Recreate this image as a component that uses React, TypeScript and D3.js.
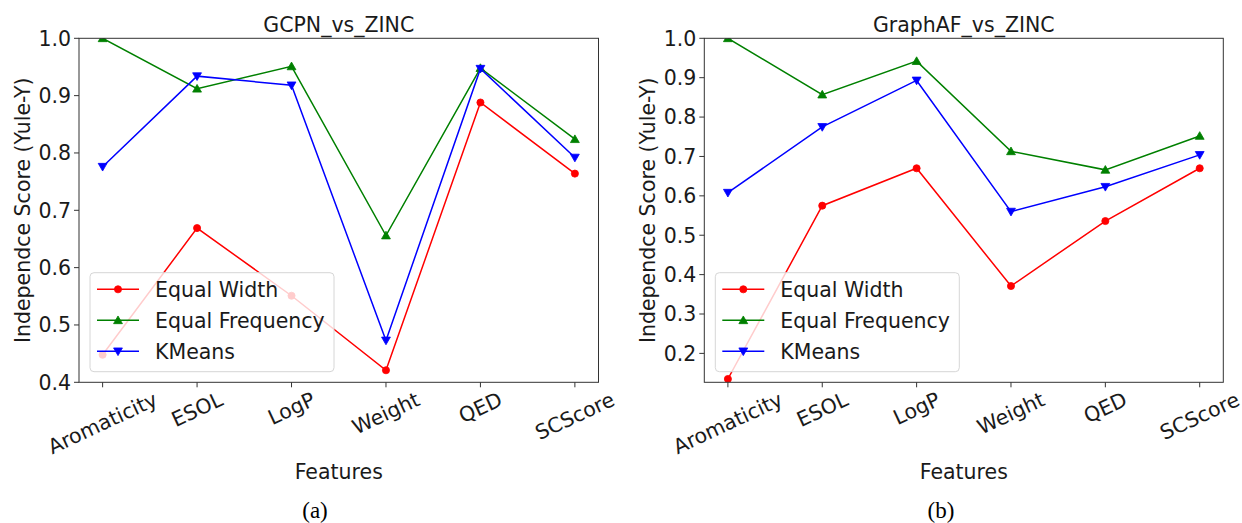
import React, { useEffect, useRef } from "react";
import * as d3 from "d3";

const features = ["Aromaticity", "ESOL", "LogP", "Weight", "QED", "SCScore"];

const gcpnEqualWidth = [0.448, 0.669, 0.551, 0.421, 0.888, 0.764];
const gcpnEqualFreq = [1.0, 0.912, 0.951, 0.656, 0.948, 0.824];
const gcpnKMeans = [0.776, 0.934, 0.918, 0.473, 0.947, 0.792];

const gafEqualWidth = [0.135, 0.575, 0.67, 0.371, 0.536, 0.67];
const gafEqualFreq = [1.0, 0.857, 0.942, 0.713, 0.666, 0.752];
const gafKMeans = [0.608, 0.775, 0.893, 0.56, 0.623, 0.704];

const gcpnTicks = [0.4, 0.5, 0.6, 0.7, 0.8, 0.9, 1.0];
const gafTicks = [0.2, 0.3, 0.4, 0.5, 0.6, 0.7, 0.8, 0.9, 1.0];

const seriesNames = ["Equal Width", "Equal Frequency", "KMeans"];
const seriesColors = ["#ff0000", "#008000", "#0000ff"];
const seriesMarkers = ["circle", "triangleUp", "triangleDown"];

const FONT = "DejaVu Sans, Verdana, sans-serif";
const FS = 20.5;

type Panel = {
  id: string;
  title: string;
  sub: string;
  subX: number;
  x0: number;
  x1: number;
  y0: number;
  y1: number;
  domain: [number, number];
  ticks: number[];
  series: number[][];
};

const panels: Panel[] = [
  {
    id: "a",
    title: "GCPN_vs_ZINC",
    sub: "(a)",
    subX: 315,
    x0: 79,
    x1: 598.5,
    y0: 38.3,
    y1: 382.3,
    domain: [0.4, 1.0],
    ticks: gcpnTicks,
    series: [gcpnEqualWidth, gcpnEqualFreq, gcpnKMeans],
  },
  {
    id: "b",
    title: "GraphAF_vs_ZINC",
    sub: "(b)",
    subX: 941,
    x0: 704.3,
    x1: 1223.3,
    y0: 38.3,
    y1: 382.3,
    domain: [0.1266, 1.0],
    ticks: gafTicks,
    series: [gafEqualWidth, gafEqualFreq, gafKMeans],
  },
];

function markerPath(kind: string) {
  if (kind === "circle") return d3.symbol().type(d3.symbolCircle).size(40)()!;
  return d3.symbol().type(d3.symbolTriangle).size(34)()!;
}

function addMarker(g: any, kind: string, x: number, y: number, color: string) {
  const rot = kind === "triangleDown" ? 180 : 0;
  const dy = kind === "triangleUp" ? 0.8 : kind === "triangleDown" ? -0.8 : 0;
  g.append("path")
    .attr("d", markerPath(kind))
    .attr("transform", `translate(${x},${y + dy}) rotate(${rot})`)
    .attr("fill", color)
    .attr("stroke", color)
    .attr("stroke-width", 0.8);
}

export default function App() {
  const ref = useRef<SVGSVGElement | null>(null);

  useEffect(() => {
    const svg = d3.select(ref.current);
    svg.selectAll("*").remove();
    const defs = svg.append("defs");

    panels.forEach((p) => {
      const x = d3
        .scalePoint<string>()
        .domain(features)
        .range([p.x0, p.x1])
        .padding(0.25);
      const y = d3.scaleLinear().domain(p.domain).range([p.y1, p.y0]);

      defs
        .append("clipPath")
        .attr("id", "clip-" + p.id)
        .append("rect")
        .attr("x", p.x0)
        .attr("y", p.y0)
        .attr("width", p.x1 - p.x0)
        .attr("height", p.y1 - p.y0);

      const g = svg.append("g");

      // data lines
      const plot = g.append("g").attr("clip-path", `url(#clip-${p.id})`);
      p.series.forEach((vals, si) => {
        const line = d3
          .line<number>()
          .x((_, i) => x(features[i])!)
          .y((v) => y(v));
        plot
          .append("path")
          .attr("d", line(vals)!)
          .attr("fill", "none")
          .attr("stroke", seriesColors[si])
          .attr("stroke-width", 1.5);
        vals.forEach((v, i) =>
          addMarker(plot, seriesMarkers[si], x(features[i])!, y(v), seriesColors[si])
        );
      });

      // frame
      g.append("rect")
        .attr("x", p.x0)
        .attr("y", p.y0)
        .attr("width", p.x1 - p.x0)
        .attr("height", p.y1 - p.y0)
        .attr("fill", "none")
        .attr("stroke", "#333")
        .attr("stroke-width", 1);

      // y ticks
      p.ticks.forEach((t) => {
        const yy = y(t);
        g.append("line")
          .attr("x1", p.x0 - 5)
          .attr("x2", p.x0)
          .attr("y1", yy)
          .attr("y2", yy)
          .attr("stroke", "#333")
          .attr("stroke-width", 1);
        g.append("text")
          .attr("x", p.x0 - 8)
          .attr("y", yy)
          .attr("dy", "0.36em")
          .attr("text-anchor", "end")
          .attr("font-family", FONT)
          .attr("font-size", FS)
          .attr("fill", "#1a1a1a")
          .text(d3.format(".1f")(t));
      });

      // x ticks with rotated labels
      const ang = 25;
      const rad = (ang * Math.PI) / 180;
      features.forEach((f) => {
        const xx = x(f)!;
        g.append("line")
          .attr("x1", xx)
          .attr("x2", xx)
          .attr("y1", p.y1)
          .attr("y2", p.y1 + 5)
          .attr("stroke", "#333")
          .attr("stroke-width", 1);
        const t = g
          .append("text")
          .attr("text-anchor", "middle")
          .attr("font-family", FONT)
          .attr("font-size", FS)
          .attr("fill", "#1a1a1a")
          .attr("x", 0)
          .attr("y", 0.346 * FS)
          .text(f);
        const w = (t.node() as SVGTextElement).getComputedTextLength();
        const h = 1.164 * FS;
        const H = w * Math.sin(rad) + h * Math.cos(rad);
        const top = p.y1 + 5;
        t.attr("transform", `translate(${xx},${top + H / 2}) rotate(${-ang})`);
      });

      // title
      g.append("text")
        .attr("x", (p.x0 + p.x1) / 2)
        .attr("y", 32.3)
        .attr("text-anchor", "middle")
        .attr("font-family", FONT)
        .attr("font-size", FS)
        .attr("fill", "#1a1a1a")
        .text(p.title);

      // x label
      g.append("text")
        .attr("x", (p.x0 + p.x1) / 2)
        .attr("y", 479)
        .attr("text-anchor", "middle")
        .attr("font-family", FONT)
        .attr("font-size", FS)
        .attr("fill", "#1a1a1a")
        .text("Features");

      // y label
      g.append("text")
        .attr(
          "transform",
          `translate(${p.x0 - 49},${(p.y0 + p.y1) / 2}) rotate(-90)`
        )
        .attr("text-anchor", "middle")
        .attr("font-family", FONT)
        .attr("font-size", FS)
        .attr("fill", "#1a1a1a")
        .text("Independce Score (Yule-Y)");

      // sub caption
      g.append("text")
        .attr("x", p.subX)
        .attr("y", 518)
        .attr("text-anchor", "middle")
        .attr("font-family", "Liberation Serif, Times New Roman, serif")
        .attr("font-size", 23)
        .attr("fill", "#000")
        .text(p.sub);

      // legend
      const lx = p.x0 + 11;
      const ly = 272.7;
      const lg = g.append("g");
      lg.append("rect")
        .attr("x", lx)
        .attr("y", ly)
        .attr("width", 244)
        .attr("height", 99)
        .attr("rx", 4)
        .attr("fill", "#ffffff")
        .attr("fill-opacity", 0.8)
        .attr("stroke", "#d6d6d6")
        .attr("stroke-width", 1);
      seriesNames.forEach((name, i) => {
        const ry = ly + 16.6 + i * 31;
        lg.append("line")
          .attr("x1", lx + 7)
          .attr("x2", lx + 49)
          .attr("y1", ry)
          .attr("y2", ry)
          .attr("stroke", seriesColors[i])
          .attr("stroke-width", 1.5);
        addMarker(lg, seriesMarkers[i], lx + 28, ry, seriesColors[i]);
        lg.append("text")
          .attr("x", lx + 65)
          .attr("y", ry)
          .attr("dy", "0.36em")
          .attr("font-family", FONT)
          .attr("font-size", FS)
          .attr("fill", "#1a1a1a")
          .text(name);
      });
    });
  }, []);

  return (
    <svg
      ref={ref}
      width={1242}
      height={523}
      style={{ position: "absolute", left: 0, top: 0, background: "#fff" }}
    />
  );
}
